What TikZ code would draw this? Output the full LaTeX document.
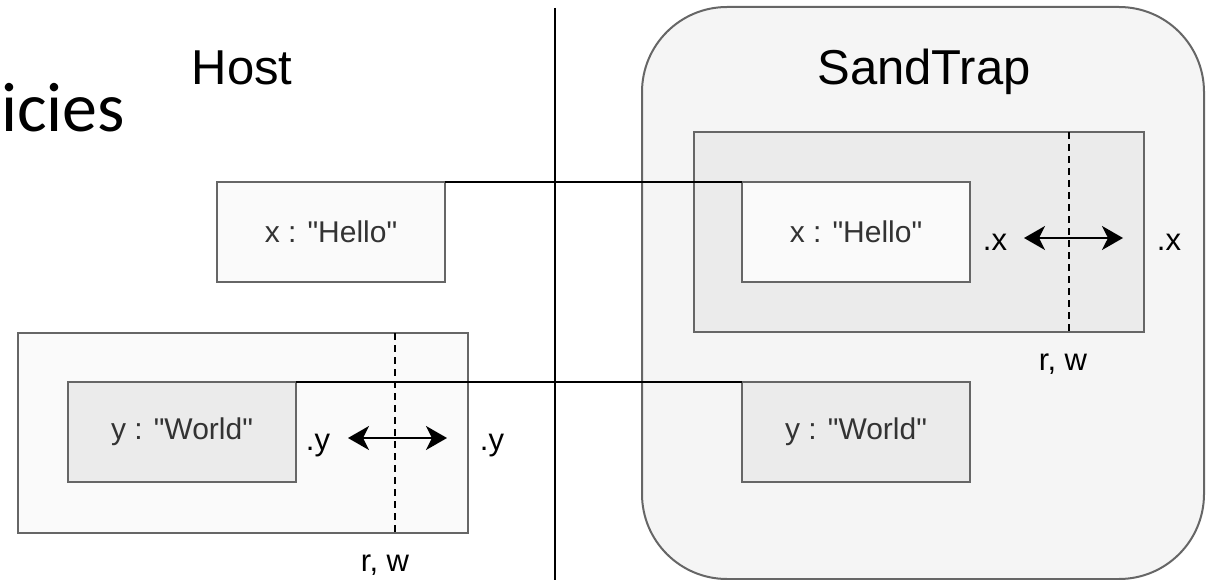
\documentclass[tikz,border=0pt]{standalone}
\usepackage{fontspec}
\setmainfont{Liberation Sans}
\newfontfamily\slidefont{Carlito}
\usetikzlibrary{arrows.meta, positioning}
\definecolor{edge}{HTML}{666666}
\definecolor{pale}{HTML}{FAFAFA}
\definecolor{shade}{HTML}{EBEBEB}
\definecolor{sandbg}{HTML}{F5F5F5}
\definecolor{ink}{HTML}{333333}
\newcommand{\qt}[1]{\textquotedbl#1\textquotedbl}

\begin{document}
\begin{tikzpicture}[
  x=1pt, y=-1pt,
  box/.style={draw=edge, line width=2pt, minimum width=228pt, minimum height=100pt, inner sep=0pt, outer sep=0pt, text=ink, font=\fontsize{30}{36}\selectfont},
  light/.style={box, fill=pale},
  dark/.style={box, fill=shade},
  region/.style={draw=edge, line width=2pt, fill=shade, inner sep=0pt, outer sep=0pt, anchor=north west},
  tag/.style={font=\fontsize{31}{37}\selectfont, inner sep=0pt, anchor=base},
  title/.style={font=\fontsize{49}{58}\selectfont, inner sep=0pt, anchor=base},
  link/.style={line width=2pt},
  cut/.style={line width=2pt, dash pattern=on 7pt off 5pt},
  swap/.style={line width=2pt, {Stealth[length=21pt, width=24pt, inset=6pt]}-{Stealth[length=21pt, width=24pt, inset=6pt]}},
]
\useasboundingbox (0,0) rectangle (1217,580);

% slide heading
\node[font=\slidefont\fontsize{70}{84}\selectfont, inner sep=0pt, anchor=base west] (heading) at (1,132) {icies};

% host side
\node[title] (host) at (242,85) {Host};
\node[light, anchor=north west] (hx) at (217,182) {x : \qt{Hello}};
\node[region, fill=pale, minimum width=450pt, minimum height=200pt] (hyout) at (18,333) {};
\node[dark, anchor=north west] (hy) at (68,382) {y : \qt{World}};

% sandbox side
\node[region, fill=sandbg, rounded corners=85pt, minimum width=562pt, minimum height=572pt] (sandtrap) at (642,7) {};
\node[title] (sandname) at (924,85) {SandTrap};
\node[region, minimum width=450pt, minimum height=200pt] (sxout) at (694,132) {};
\node[light, anchor=north west] (sx) at (742,182) {x : \qt{Hello}};
\node[dark, below=100pt of sx] (sy) {y : \qt{World}};

% divider
\coordinate (divtop) at (555,8);
\coordinate (divbot) at (555,580);
\draw[link] (divtop) -- (divbot);

% shared values
\draw[link] (hx.north east) -- (sx.north west);
\draw[link] (hy.north east) -- (sy.north west);

% membranes
\coordinate (hcut) at (395,0);
\coordinate (scut) at (1069,0);
\draw[cut] (hcut |- hyout.north) -- (hcut |- hyout.south);
\draw[cut] (scut |- sxout.north) -- (scut |- sxout.south);
\node[tag] (hrw) at (385,571) {r, w};
\node[tag] (srw) at (1063,370) {r, w};

% property access across the membrane
\coordinate (hl) at (348,438);
\coordinate (hr) at (447,438);
\draw[swap] (hl) -- (hr);
\node[tag] (hyin) at (318,450) {.y};
\node[tag] (hyout2) at (492,450) {.y};

\coordinate (sl) at (1024,238);
\coordinate (sr) at (1123,238);
\draw[swap] (sl) -- (sr);
\node[tag] (sxin) at (995,250) {.x};
\node[tag] (sxout2) at (1169,250) {.x};

\end{tikzpicture}
\end{document}
